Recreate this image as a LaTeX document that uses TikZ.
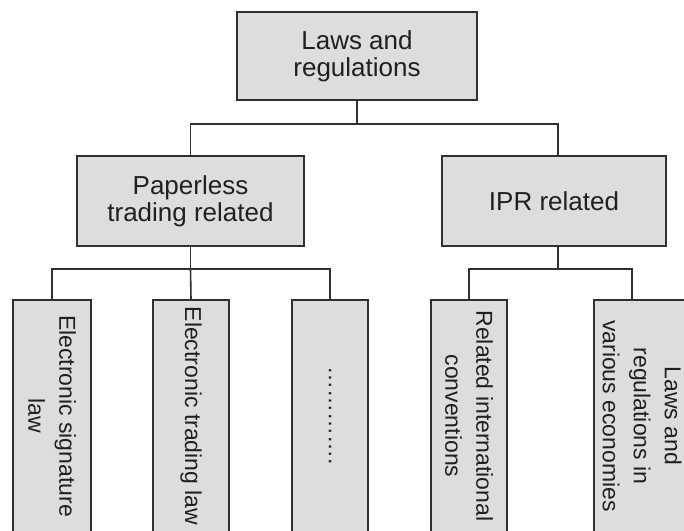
\documentclass[tikz,border=0pt]{standalone}
\usepackage{fontspec}
\setmainfont{Liberation Sans}
\definecolor{boxfill}{HTML}{DDDDDD}
\definecolor{boxline}{HTML}{303030}
\definecolor{txt}{HTML}{202020}
\tikzset{
  hbox/.style={draw=boxline, fill=boxfill, line width=1.8pt, inner sep=0pt,
    align=center, text=txt, font=\fontsize{26}{27}\selectfont},
  vbox/.style={draw=boxline, fill=boxfill, line width=1.8pt, inner sep=0pt,
    align=center, text=txt, font=\fontsize{23}{31}\selectfont, rotate=-90},
  conn/.style={draw=boxline, line width=1.6pt}
}
\begin{document}
\begin{tikzpicture}[x=1pt, y=-1pt]
\useasboundingbox (0,0) rectangle (684,530);
% level 0
\node[hbox, minimum width=240pt, minimum height=88pt] (top) at (357,56) {Laws and\\regulations};
% level 1
\node[hbox, minimum width=227pt, minimum height=90pt] (pap) at (190.5,201) {Paperless\\trading related};
\node[hbox, minimum width=224pt, minimum height=90pt] (ipr) at (554,201) {IPR related};
% level 2 (rotated: width is vertical extent)
\node[vbox, minimum width=232pt, minimum height=78pt] (l1) at (52,416) {Electronic signature\\law};
\node[vbox, minimum width=232pt, minimum height=76pt] (l2) at (191,416) {Electronic trading law};
\node[vbox, minimum width=232pt, minimum height=76pt] (l3) at (330,416) {………….};
\node[vbox, minimum width=232pt, minimum height=76pt] (l4) at (469,416) {Related international\\conventions};
\node[vbox, minimum width=232pt, minimum height=96pt] (l5) at (642,416) {Laws and\\regulations in\\various economies};
% connectors
\coordinate (iprin) at ([xshift=4pt]ipr.north);
\coordinate (iprout) at ([xshift=4pt]ipr.south);
\coordinate (l5in) at ([xshift=-10pt]l5.west);
\draw[conn] (top.south) -- ++(0,23) coordinate (j0);
\draw[conn] (j0) -| (pap.north);
\draw[conn] (j0) -| (iprin);
\draw[conn] (pap.south) -- ++(0,22) coordinate (j1);
\draw[conn] (j1) -| (l1.west);
\draw[conn] (j1) -- (l2.west);
\draw[conn] (j1) -| (l3.west);
\draw[conn] (iprout) -- ++(0,22) coordinate (j2);
\draw[conn] (j2) -| (l4.west);
\draw[conn] (j2) -| (l5in);
\end{tikzpicture}
\end{document}
